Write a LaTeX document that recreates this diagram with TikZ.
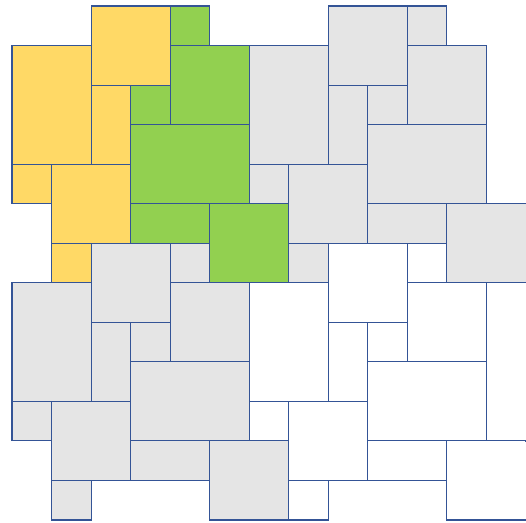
\documentclass[tikz,border=0pt]{standalone}
\definecolor{tyellow}{HTML}{FFD966}
\definecolor{tgreen}{HTML}{92D050}
\definecolor{tgray}{HTML}{E5E5E5}
\definecolor{tline}{RGB}{52,84,150}
\newcommand\tilefill[4]{%
  \foreach \a/\b/\c/\d in {2/0/4/2,0/1/2/4,2/2/3/4,0/4/1/5,1/4/3/6,1/6/2/7}
    {\path[fill=#3] ({\a+#1},{\b+#2}) rectangle ({\c+#1},{\d+#2});}
  \foreach \a/\b/\c/\d in {4/0/5/1,4/1/6/3,3/2/4/3,3/3/6/5,3/5/5/6,5/5/7/7}
    {\path[fill=#4] ({\a+#1},{\b+#2}) rectangle ({\c+#1},{\d+#2});}
}
\newcommand\tiledraw[2]{%
  \foreach \a/\b/\c/\d in {2/0/4/2,0/1/2/4,2/2/3/4,0/4/1/5,1/4/3/6,1/6/2/7,4/0/5/1,4/1/6/3,3/2/4/3,3/3/6/5,3/5/5/6,5/5/7/7}
    {\path[tileedge] ({\a+#1},{\b+#2}) rectangle ({\c+#1},{\d+#2});}
}
\begin{document}
\begin{tikzpicture}[x=1pt,y=1pt]
\useasboundingbox (0,0) rectangle (526,522);
\clip (0,0) rectangle (526,522);
\begin{scope}[shift={(12pt,516pt)},x=39.54pt,y=-39.54pt,
  tileedge/.style={draw=tline,line width=1.1pt,line join=miter}]
  \tilefill{0}{0}{tyellow}{tgreen}
  \tilefill{6}{0}{tgray}{tgray}
  \tilefill{0}{6}{tgray}{tgray}
  \tilefill{6}{6}{white}{white}
  \path[fill=white] (12,7) rectangle (13.5,11);
  \tiledraw{0}{0}
  \tiledraw{6}{0}
  \tiledraw{0}{6}
  \tiledraw{6}{6}
  \path[tileedge] (12,7) rectangle (13.5,11);
  % the picture is cut at its right edge: hide the edge lines lying on it
  \path[fill=tgray] (12.95,5.02) rectangle (13.1,6.98);
  \path[fill=white] (12.95,11.02) rectangle (13.1,12.98);
\end{scope}
\end{tikzpicture}
\end{document}
